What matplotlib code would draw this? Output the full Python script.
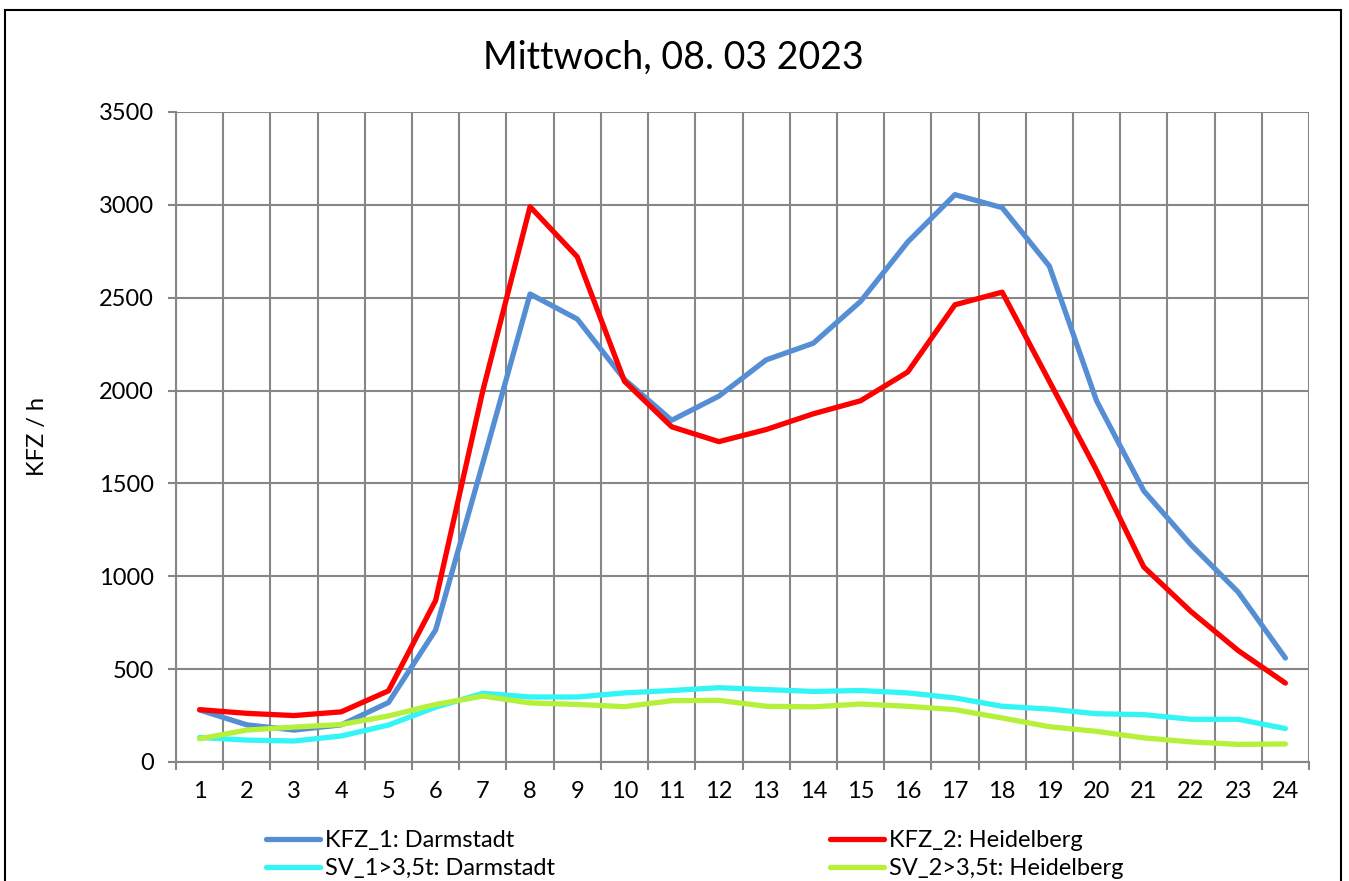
import matplotlib.pyplot as plt
from matplotlib.patches import Rectangle
from matplotlib.ticker import FixedLocator

plt.rcParams['font.family'] = ['Lato', 'DejaVu Sans']

# hours of the day (category labels)
hours = [str(h) for h in range(1, 25)]

# vehicle counts per hour
kfz_darmstadt = [280, 200, 172, 200, 320, 711, 1610, 2520, 2385, 2060, 1840, 1970,
                 2165, 2255, 2480, 2800, 3055, 2985, 2670, 1945, 1460, 1170, 915, 560]
kfz_heidelberg = [282, 262, 250, 270, 383, 870, 2000, 2990, 2720, 2050, 1805, 1725,
                  1790, 1875, 1945, 2100, 2462, 2530, 2050, 1570, 1050, 810, 600, 425]
sv_darmstadt = [132, 118, 113, 140, 199, 295, 370, 350, 350, 372, 385, 400,
                390, 380, 385, 372, 345, 300, 285, 260, 255, 230, 230, 180]
sv_heidelberg = [125, 172, 188, 202, 248, 310, 355, 318, 310, 298, 330, 332,
                 300, 297, 312, 300, 282, 237, 190, 165, 130, 108, 95, 97]

labels = ['KFZ_1: Darmstadt', 'KFZ_2: Heidelberg',
          'SV_1>3,5t: Darmstadt', 'SV_2>3,5t: Heidelberg']
colors = ['#558ED5', '#FF0000', '#33F5F5', '#B5F03A']

fig = plt.figure(figsize=(13.49, 8.81), dpi=100)
ax = fig.add_axes([176 / 1349, 1 - 762 / 881, (1309 - 176) / 1349, (762 - 112) / 881])

x = list(range(1, len(hours) + 1))
lines = []
for series, lab, col in zip([kfz_darmstadt, kfz_heidelberg, sv_darmstadt, sv_heidelberg],
                            labels, colors):
    ln, = ax.plot(x, series, color=col, linewidth=3.8, label=lab,
                  solid_capstyle='round', solid_joinstyle='round', zorder=3)
    lines.append(ln)

ax.set_xlim(0.5, 24.5)
ax.set_ylim(0, 3500)
ax.set_yticks(range(0, 3501, 500))
ax.set_xticks(x)
ax.set_xticklabels(hours)
ax.xaxis.set_minor_locator(FixedLocator([i + 0.5 for i in range(0, 25)]))

grid_col = '#868686'
ax.grid(True, which='major', axis='y', color=grid_col, linewidth=1.5)
ax.grid(True, which='minor', axis='x', color=grid_col, linewidth=1.5)
ax.set_axisbelow(True)

for s in ['top', 'right']:
    ax.spines[s].set_visible(False)
for s in ['left', 'bottom']:
    ax.spines[s].set_color(grid_col)
    ax.spines[s].set_linewidth(1.5)

ax.tick_params(axis='x', which='major', length=0, pad=14, labelsize=17)
ax.tick_params(axis='x', which='minor', length=6, width=1.5, color=grid_col, direction='out')
ax.tick_params(axis='y', length=6, width=1.5, color=grid_col, pad=10, labelsize=17)

ax.set_ylabel('KFZ / h', fontsize=17)
ax.yaxis.set_label_coords(-(176 - 48) / (1309 - 176), 0.5)

fig.text(673 / 1349, 1 - 58 / 881, 'Mittwoch, 08. 03 2023', ha='center', va='center', fontsize=27)

# two legend columns, the lower row is cut by the figure edge
leg_kw = dict(loc='upper left', frameon=False, fontsize=17, borderpad=0, borderaxespad=0,
              handlelength=2.3, handletextpad=0.2, labelspacing=0.3)
fig.legend([lines[0], lines[2]], [labels[0], labels[2]],
           bbox_to_anchor=(266 / 1349, 1 - 830 / 881), **leg_kw)
fig.legend([lines[1], lines[3]], [labels[1], labels[3]],
           bbox_to_anchor=(830 / 1349, 1 - 830 / 881), **leg_kw)

# outer chart frame
fig.patches.append(Rectangle((5 / 1349, -0.1), (1341 - 5) / 1349, 1.1 - 10 / 881,
                             transform=fig.transFigure, fill=False, edgecolor='black',
                             linewidth=1.5))

fig.savefig('out.png', dpi=100)
